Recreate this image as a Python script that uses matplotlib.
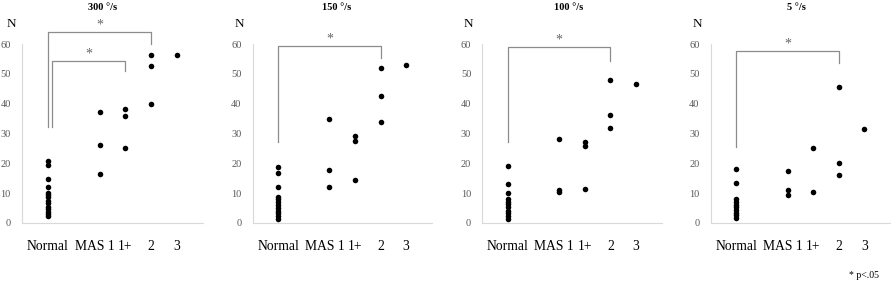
import matplotlib
matplotlib.use("Agg")
import matplotlib.pyplot as plt
import matplotlib.transforms as mtransforms

plt.rcParams['font.family'] = ['Liberation Serif', 'DejaVu Serif']

categories = ["Normal", "MAS 1", "1+", "2", "3"]
cat_pos = [1, 3, 4, 5, 6]
titles = ["300 °/s", "150 °/s", "100 °/s", "5 °/s"]

p300 = [
    [20.8, 19.3, 14.8, 12.2, 10.2, 9.4, 8.6, 7.5, 6.6, 5.5, 4.6, 3.8, 3.0, 2.4],
    [37.2, 26.0, 16.5],
    [38.3, 36.0, 25.0],
    [56.3, 52.5, 39.9],
    [56.3],
]
p150 = [
    [18.9, 16.9, 11.9, 8.8, 8.0, 6.9, 6.0, 5.1, 4.1, 3.2, 2.4, 1.5],
    [34.8, 17.9, 11.9],
    [29.0, 27.5, 14.3],
    [51.9, 42.5, 33.7],
    [52.8],
]
p100 = [
    [19.0, 13.1, 10.2, 8.0, 7.1, 6.3, 5.5, 4.1, 3.2, 2.4, 1.5],
    [28.3, 11.1, 10.4],
    [27.0, 25.9, 11.5],
    [48.1, 36.1, 31.8],
    [46.6],
]
p5 = [
    [18.1, 13.4, 8.0, 7.1, 6.2, 5.3, 4.4, 3.5, 2.6, 1.6],
    [17.5, 10.9, 9.3],
    [25.2, 10.5],
    [45.6, 20.0, 16.1],
    [31.6],
]
panels = [p300, p150, p100, p5]

# significance brackets: (x_left, y_left_bottom, y_top, x_right, y_right_bottom)
brackets = [
    [(1.0, 32.2, 64.0, 5.0, 60.0), (1.15, 32.2, 54.3, 4.0, 51.0)],
    [(1.0, 27.3, 59.2, 5.0, 55.2)],
    [(1.0, 27.0, 59.0, 5.0, 54.4)],
    [(1.0, 25.6, 57.5, 5.0, 53.6)],
]

W, H = 892, 283
fig = plt.figure(figsize=(W / 100, H / 100), dpi=100)

ax_px = [(22, 203), (252.7, 431.7), (482.3, 661.7), (710.7, 890)]
y0_px, y60_px = 223, 44
title_x = [103, 337, 569, 796]
n_x = [11, 239, 468, 697]

for i, (xl, xr) in enumerate(ax_px):
    ax = fig.add_axes([xl / W, (H - y0_px) / H, (xr - xl) / W, (y0_px - y60_px) / H])
    ax.set_xlim(0, 7)
    ax.set_ylim(0, 60)
    for spine in ["top", "right"]:
        ax.spines[spine].set_visible(False)
    for spine in ["left", "bottom"]:
        ax.spines[spine].set_color("#d9d9d9")
        ax.spines[spine].set_linewidth(0.8)
    ax.set_yticks([0, 10, 20, 30, 40, 50, 60])
    ax.tick_params(axis="y", length=0, pad=8, labelsize=7.5, labelcolor="#595959")
    ax.set_xticks(cat_pos)
    ax.set_xticklabels(categories)
    ax.tick_params(axis="x", length=0, pad=12, labelsize=9.8, labelcolor="black")
    lbl = ax.get_xticklabels()[1]
    lbl.set_transform(lbl.get_transform() + mtransforms.ScaledTranslation(-5 / 100, 0, fig.dpi_scale_trans))
    for pos, vals in zip(cat_pos, panels[i]):
        ax.scatter([pos] * len(vals), vals, s=16, color="black", zorder=3, linewidths=0)
    for (xa, ya, yt, xb, yb) in brackets[i]:
        ax.plot([xa, xa, xb, xb], [ya, yt, yt, yb], color="#8c8c8c", lw=0.9, clip_on=False)
        ax.text((xa + xb) / 2, yt + 0.3, "*", ha="center", va="bottom", fontsize=10,
                color="#666666", clip_on=False)
    fig.text(title_x[i] / W, 1 - 7 / H, titles[i], ha="center", va="center",
             fontsize=7.5, fontweight="bold")
    fig.text(n_x[i] / W, 1 - 24 / H, "N", ha="center", va="center", fontsize=9.5)

fig.text(864 / W, 1 - 276 / H, "* p<.05", ha="center", va="center", fontsize=7)

fig.savefig("out.png", dpi=100)
